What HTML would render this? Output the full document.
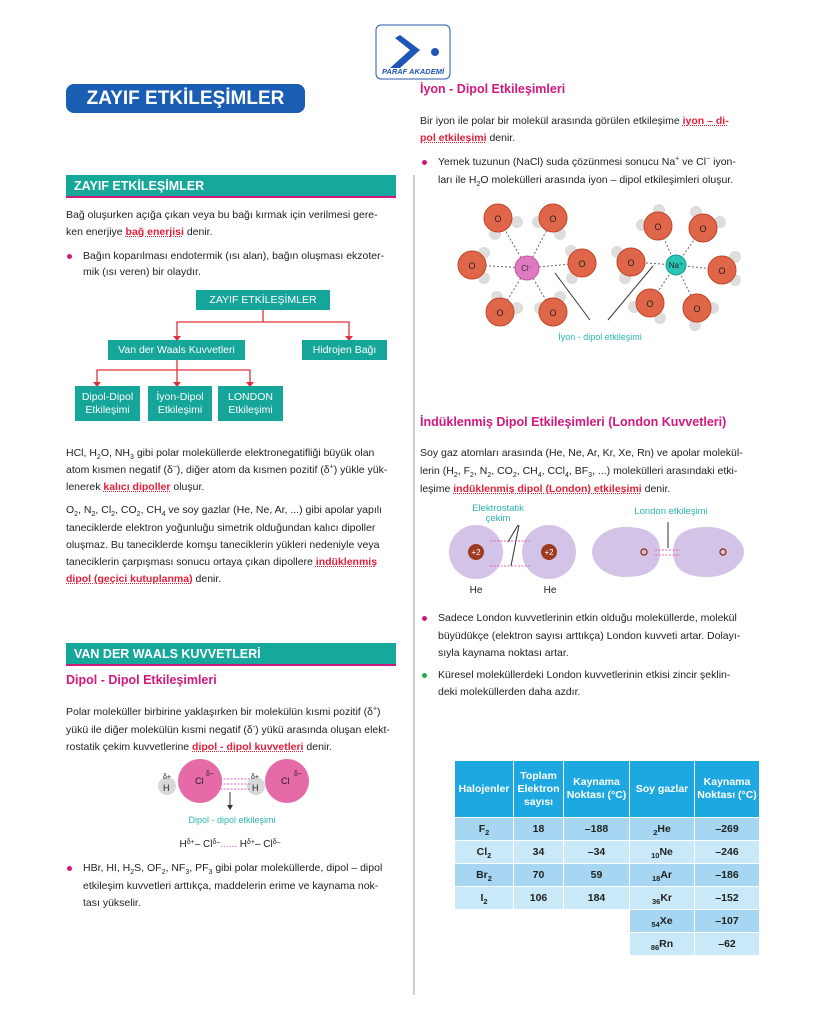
<!DOCTYPE html>
<html><head><meta charset="utf-8">
<style>
body{margin:0;background:#fff}
#pg{position:relative;width:828px;height:1029px;overflow:hidden;font-family:"Liberation Sans",sans-serif;color:#222}
sub,sup{line-height:0;font-size:7px}
.t{position:absolute;font-size:10.5px;line-height:14px;white-space:nowrap}
.r{color:#e0203a;font-weight:bold;text-decoration:underline dotted #e0203a}
.h{position:absolute;color:#d1187e;font-weight:bold;font-size:12.5px;white-space:nowrap}
.bar{position:absolute;background:#16a89a;color:#fff;font-weight:bold;font-size:12.5px;line-height:22px;padding-left:8px;box-sizing:border-box;border-bottom:2px solid #d1187e}
.b{position:absolute;width:5px;height:5px;border-radius:50%;background:#d1187e}
.box{position:absolute;background:#15a599;color:#fff;font-size:10.5px;text-align:center;display:flex;align-items:center;justify-content:center;line-height:13px}
table{position:absolute;left:454px;top:760px;border-collapse:collapse;font-size:10.5px;font-weight:bold;text-align:center}
td{border:1.5px solid #fff;height:22px;padding:0}
td sub{font-size:7.5px}
th{background:#1ea8e2;color:#fff;border:1.5px solid #fff;height:56px;padding:0;font-size:10.5px;line-height:13px}
.a td.v{background:#a6d6f1}.c td.v{background:#c9e8f8}
</style></head><body>
<div id="pg">
<svg style="position:absolute;left:0;top:0" width="828" height="1029">
<rect x="376" y="25" width="74" height="54" rx="5" fill="#fff" stroke="#2a5aa8" stroke-width="1"/>
<polygon points="400,35 420,50 400,68 390,68 410,50 395,38" fill="#1d56b5"/>
<circle cx="435" cy="52" r="4" fill="#1d56b5"/>
<text x="413" y="74" font-size="7.5" font-weight="bold" font-style="italic" fill="#1d56b5" text-anchor="middle" font-family="Liberation Sans">PARAF AKADEMİ</text>
<line x1="414" y1="175" x2="414" y2="995" stroke="#aab" stroke-width="1.2"/>
<g stroke="#e0303a" stroke-width="1.3" fill="none">
<path d="M263 310V322H177V338M263 322H349V338M177 360V370H97V384M177 370V384M177 370H250V384"/>
</g>
<g fill="#e0303a"><polygon points="173,336 181,336 177,341"/><polygon points="345,336 353,336 349,341"/><polygon points="93,382 101,382 97,387"/><polygon points="173,382 181,382 177,387"/><polygon points="246,382 254,382 250,387"/></g>
<g font-family="Liberation Sans" font-size="9">
<g stroke="#666" stroke-dasharray="2,2"><line x1="527" y1="268" x2="498" y2="218"/><line x1="527" y1="268" x2="553" y2="218"/><line x1="527" y1="268" x2="472" y2="265"/><line x1="527" y1="268" x2="582" y2="263"/><line x1="527" y1="268" x2="500" y2="312"/><line x1="527" y1="268" x2="553" y2="312"/><line x1="676" y1="265" x2="658" y2="226"/><line x1="676" y1="265" x2="703" y2="228"/><line x1="676" y1="265" x2="631" y2="262"/><line x1="676" y1="265" x2="722" y2="270"/><line x1="676" y1="265" x2="650" y2="303"/><line x1="676" y1="265" x2="697" y2="308"/></g>
<g fill="#ddd"><circle cx="517" cy="222" r="6"/><circle cx="495" cy="234" r="6"/><circle cx="538" cy="222" r="6"/><circle cx="560" cy="234" r="6"/><circle cx="484" cy="253" r="6"/><circle cx="484" cy="278" r="6"/><circle cx="571" cy="251" r="6"/><circle cx="572" cy="278" r="6"/><circle cx="497" cy="297" r="6"/><circle cx="517" cy="308" r="6"/><circle cx="540" cy="308" r="6"/><circle cx="560" cy="297" r="6"/><circle cx="659" cy="210" r="6"/><circle cx="642" cy="225" r="6"/><circle cx="696" cy="212" r="6"/><circle cx="720" cy="222" r="6"/><circle cx="617" cy="252" r="6"/><circle cx="625" cy="278" r="6"/><circle cx="735" cy="257" r="6"/><circle cx="735" cy="280" r="6"/><circle cx="634" cy="307" r="6"/><circle cx="660" cy="318" r="6"/><circle cx="713" cy="308" r="6"/><circle cx="695" cy="325" r="6"/></g>
<g fill="#e0664a" stroke="#c0462a"><circle cx="498" cy="218" r="14"/><circle cx="553" cy="218" r="14"/><circle cx="472" cy="265" r="14"/><circle cx="582" cy="263" r="14"/><circle cx="500" cy="312" r="14"/><circle cx="553" cy="312" r="14"/><circle cx="658" cy="226" r="14"/><circle cx="703" cy="228" r="14"/><circle cx="631" cy="262" r="14"/><circle cx="722" cy="270" r="14"/><circle cx="650" cy="303" r="14"/><circle cx="697" cy="308" r="14"/></g>
<g fill="#222" text-anchor="middle"><text x="498" y="222">O</text><text x="553" y="222">O</text><text x="472" y="269">O</text><text x="582" y="267">O</text><text x="500" y="316">O</text><text x="553" y="316">O</text><text x="658" y="230">O</text><text x="703" y="232">O</text><text x="631" y="266">O</text><text x="722" y="274">O</text><text x="650" y="307">O</text><text x="697" y="312">O</text></g>
<circle cx="527" cy="268" r="12" fill="#e07ac0" stroke="#c05aa0"/><text x="527" y="271" text-anchor="middle" fill="#333" font-size="8">Cl⁻</text>
<circle cx="676" cy="265" r="10" fill="#2cc5b8" stroke="#109a90"/><text x="676" y="268" text-anchor="middle" fill="#222" font-size="8">Na⁺</text>
<g stroke="#333" fill="none"><line x1="555" y1="273" x2="590" y2="320"/><line x1="653" y1="266" x2="608" y2="320"/></g>
<text x="600" y="340" text-anchor="middle" fill="#2bb5b0" font-size="9">İyon - dipol  etkileşimi</text>
</g>
<g font-family="Liberation Sans">
<circle cx="476" cy="552" r="27" fill="#d3c3e6"/><circle cx="549" cy="552" r="27" fill="#d3c3e6"/>
<circle cx="476" cy="552" r="8" fill="#9c3a22"/><circle cx="549" cy="552" r="8" fill="#9c3a22"/>
<text x="476" y="555" font-size="8" fill="#fff" text-anchor="middle">+2</text><text x="549" y="555" font-size="8" fill="#fff" text-anchor="middle">+2</text>
<path d="M660 552C660 530 640 527 625 527C605 527 592 540 592 552C592 564 605 577 625 577C640 577 660 574 660 552Z" fill="#d3c3e6"/>
<path d="M673 552C673 530 693 527 708 527C728 527 744 540 744 552C744 564 728 577 708 577C693 577 673 574 673 552Z" fill="#d3c3e6"/>
<circle cx="644" cy="552" r="3" fill="none" stroke="#9c3a22" stroke-width="1.5"/><circle cx="723" cy="552" r="3" fill="none" stroke="#9c3a22" stroke-width="1.5"/>
<g stroke="#e060c0" stroke-dasharray="2,1.5"><line x1="490" y1="541" x2="530" y2="541"/><line x1="490" y1="566" x2="530" y2="566"/><line x1="655" y1="550" x2="680" y2="550"/><line x1="655" y1="555" x2="680" y2="555"/></g>
<g stroke="#333"><line x1="508" y1="542" x2="518" y2="525"/><line x1="511" y1="566" x2="519" y2="525"/><line x1="668" y1="548" x2="668" y2="522"/></g>
<text x="498" y="511" font-size="9.5" fill="#2bb5b0" text-anchor="middle">Elektrostatik</text><text x="498" y="521" font-size="9.5" fill="#2bb5b0" text-anchor="middle">çekim</text>
<text x="671" y="514" font-size="9.5" fill="#2bb5b0" text-anchor="middle">London etkileşimi</text>
<text x="476" y="593" font-size="10" fill="#222" text-anchor="middle">He</text><text x="550" y="593" font-size="10" fill="#222" text-anchor="middle">He</text>
</g>
<g font-family="Liberation Sans">
<circle cx="167" cy="786" r="9" fill="#d8d8d8"/><circle cx="200" cy="781" r="22" fill="#e66aa8"/>
<circle cx="256" cy="786" r="9" fill="#d8d8d8"/><circle cx="287" cy="781" r="22" fill="#e66aa8"/>
<g stroke="#e060c0" stroke-dasharray="2,1.5"><line x1="220" y1="779" x2="250" y2="779"/><line x1="220" y1="784" x2="250" y2="784"/><line x1="220" y1="789" x2="250" y2="789"/></g>
<line x1="230" y1="792" x2="230" y2="806" stroke="#333"/><polygon points="227,805 233,805 230,810" fill="#333"/>
<g font-size="9" fill="#222"><text x="163" y="791">H</text><text x="163" y="779" font-size="7">δ+</text><text x="195" y="784">Cl</text><text x="206" y="776" font-size="7">δ−</text><text x="252" y="791">H</text><text x="251" y="779" font-size="7">δ+</text><text x="281" y="784">Cl</text><text x="294" y="776" font-size="7">δ−</text></g>
<text x="232" y="823" font-size="9" fill="#2bb5b0" text-anchor="middle">Dipol - dipol etkileşimi</text>
<text x="230" y="847" font-size="10" fill="#222" text-anchor="middle">H<tspan font-size="7" dy="-3">δ+</tspan><tspan dy="3">– Cl</tspan><tspan font-size="7" dy="-3">δ–</tspan><tspan dy="3" fill="#e060c0">......</tspan><tspan> H</tspan><tspan font-size="7" dy="-3">δ+</tspan><tspan dy="3">– Cl</tspan><tspan font-size="7" dy="-3">δ–</tspan></text>
</g>
</svg>

<div style="position:absolute;left:66px;top:84px;width:239px;height:29px;background:#1a5eb3;border-radius:8px;color:#fff;font-weight:bold;font-size:19px;line-height:29px;text-align:center">ZAYIF ETKİLEŞİMLER</div>

<div class="bar" style="left:66px;top:175px;width:330px;height:23px">ZAYIF ETKİLEŞİMLER</div>
<div class="t" style="left:66px;top:208px">Bağ oluşurken açığa çıkan veya bu bağı kırmak için verilmesi gere-</div>
<div class="t" style="left:66px;top:225px">ken enerjiye <span class="r">bağ enerjisi</span> denir.</div>
<div class="b" style="left:67px;top:254px"></div>
<div class="t" style="left:83px;top:249px">Bağın koparılması endotermik (ısı alan), bağın oluşması ekzoter-</div>
<div class="t" style="left:83px;top:265px">mik (ısı veren) bir olaydır.</div>

<div class="box" style="left:196px;top:290px;width:134px;height:20px">ZAYIF ETKİLEŞİMLER</div>
<div class="box" style="left:108px;top:340px;width:137px;height:20px">Van der Waals Kuvvetleri</div>
<div class="box" style="left:302px;top:340px;width:85px;height:20px">Hidrojen Bağı</div>
<div class="box" style="left:75px;top:386px;width:65px;height:35px">Dipol-Dipol<br>Etkileşimi</div>
<div class="box" style="left:148px;top:386px;width:64px;height:35px">İyon-Dipol<br>Etkileşimi</div>
<div class="box" style="left:218px;top:386px;width:65px;height:35px">LONDON<br>Etkileşimi</div>

<div class="t" style="left:66px;top:446px">HCl, H<sub>2</sub>O, NH<sub>3</sub> gibi polar moleküllerde elektronegatifliği büyük olan</div>
<div class="t" style="left:66px;top:463px">atom kısmen negatif (δ<sup>–</sup>), diğer atom da kısmen pozitif (δ<sup>+</sup>) yükle yük-</div>
<div class="t" style="left:66px;top:480px">lenerek <span class="r">kalıcı dipoller</span> oluşur.</div>
<div class="t" style="left:66px;top:503px">O<sub>2</sub>, N<sub>2</sub>, Cl<sub>2</sub>, CO<sub>2</sub>, CH<sub>4</sub> ve soy gazlar (He, Ne, Ar, ...) gibi apolar yapılı</div>
<div class="t" style="left:66px;top:521px">taneciklerde elektron yoğunluğu simetrik olduğundan kalıcı dipoller</div>
<div class="t" style="left:66px;top:538px">oluşmaz. Bu taneciklerde komşu taneciklerin yükleri nedeniyle veya</div>
<div class="t" style="left:66px;top:555px">taneciklerin çarpışması sonucu ortaya çıkan dipollere <span class="r">indüklenmiş</span></div>
<div class="t" style="left:66px;top:572px"><span class="r">dipol (geçici kutuplanma)</span> denir.</div>

<div class="bar" style="left:66px;top:643px;width:330px;height:23px">VAN DER WAALS KUVVETLERİ</div>
<div class="h" style="left:66px;top:673px">Dipol - Dipol Etkileşimleri</div>
<div class="t" style="left:66px;top:705px">Polar moleküller birbirine yaklaşırken bir molekülün kısmi pozitif (δ<sup>+</sup>)</div>
<div class="t" style="left:66px;top:723px">yükü ile diğer molekülün kısmi negatif (δ<sup>-</sup>) yükü arasında oluşan elekt-</div>
<div class="t" style="left:66px;top:740px">rostatik çekim kuvvetlerine <span class="r">dipol - dipol kuvvetleri</span> denir.</div>
<div class="b" style="left:67px;top:866px"></div>
<div class="t" style="left:83px;top:861px">HBr, HI, H<sub>2</sub>S, OF<sub>2</sub>, NF<sub>3</sub>, PF<sub>3</sub> gibi polar moleküllerde, dipol – dipol</div>
<div class="t" style="left:83px;top:879px">etkileşim kuvvetleri arttıkça, maddelerin erime ve kaynama nok-</div>
<div class="t" style="left:83px;top:896px">tası yükselir.</div>

<div class="h" style="left:420px;top:82px">İyon - Dipol Etkileşimleri</div>
<div class="t" style="left:420px;top:114px">Bir iyon ile polar bir molekül arasında görülen etkileşime <span class="r">iyon – di-</span></div>
<div class="t" style="left:420px;top:131px"><span class="r">pol etkileşimi</span> denir.</div>
<div class="b" style="left:422px;top:160px"></div>
<div class="t" style="left:438px;top:155px">Yemek tuzunun (NaCl) suda çözünmesi sonucu Na<sup>+</sup> ve Cl<sup>−</sup> iyon-</div>
<div class="t" style="left:438px;top:173px">ları ile H<sub>2</sub>O molekülleri arasında iyon – dipol etkileşimleri oluşur.</div>

<div class="h" style="left:420px;top:415px">İndüklenmiş Dipol Etkileşimleri (London Kuvvetleri)</div>
<div class="t" style="left:420px;top:446px">Soy gaz atomları arasında (He, Ne, Ar, Kr, Xe, Rn) ve apolar molekül-</div>
<div class="t" style="left:420px;top:464px">lerin (H<sub>2</sub>, F<sub>2</sub>, N<sub>2</sub>, CO<sub>2</sub>, CH<sub>4</sub>, CCl<sub>4</sub>, BF<sub>3</sub>, ...) molekülleri arasındaki etki-</div>
<div class="t" style="left:420px;top:482px">leşime <span class="r">indüklenmiş dipol (London) etkileşimi</span> denir.</div>
<div class="b" style="left:422px;top:616px"></div>
<div class="t" style="left:438px;top:611px">Sadece London kuvvetlerinin etkin olduğu moleküllerde, molekül</div>
<div class="t" style="left:438px;top:629px">büyüdükçe (elektron sayısı arttıkça) London kuvveti artar. Dolayı-</div>
<div class="t" style="left:438px;top:646px">sıyla kaynama noktası artar.</div>
<div class="b" style="left:422px;top:673px;background:#2aa84a"></div>
<div class="t" style="left:438px;top:668px">Küresel moleküllerdeki London kuvvetlerinin etkisi zincir şeklin-</div>
<div class="t" style="left:438px;top:685px">deki moleküllerden daha azdır.</div>

<table>
<tr><th style="width:58px">Halojenler</th><th style="width:49px">Toplam<br>Elektron<br>sayısı</th><th style="width:65px">Kaynama<br>Noktası (°C)</th><th style="width:64px">Soy gazlar</th><th style="width:64px">Kaynama<br>Noktası (°C)</th></tr>
<tr class="a"><td class="v">F<sub>2</sub></td><td class="v">18</td><td class="v">–188</td><td class="v"><sub>2</sub>He</td><td class="v">–269</td></tr>
<tr class="c"><td class="v">Cl<sub>2</sub></td><td class="v">34</td><td class="v">–34</td><td class="v"><sub>10</sub>Ne</td><td class="v">–246</td></tr>
<tr class="a"><td class="v">Br<sub>2</sub></td><td class="v">70</td><td class="v">59</td><td class="v"><sub>18</sub>Ar</td><td class="v">–186</td></tr>
<tr class="c"><td class="v">I<sub>2</sub></td><td class="v">106</td><td class="v">184</td><td class="v"><sub>36</sub>Kr</td><td class="v">–152</td></tr>
<tr class="a"><td></td><td></td><td></td><td class="v"><sub>54</sub>Xe</td><td class="v">–107</td></tr>
<tr class="c"><td></td><td></td><td></td><td class="v"><sub>86</sub>Rn</td><td class="v">–62</td></tr>
</table>
</div>
</body></html>
